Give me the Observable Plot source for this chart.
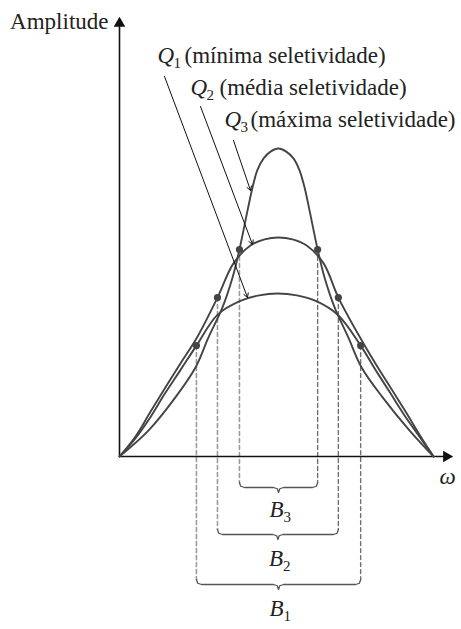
<!DOCTYPE html>
<html><head><meta charset="utf-8">
<script src="https://cdn.jsdelivr.net/npm/d3@7"></script>
<script src="https://cdn.jsdelivr.net/npm/@observablehq/plot@0.6"></script>
<style>body{margin:0;background:#fff} svg{display:block}</style>
</head><body><div id="chart"></div>
<script>
// ω spans 0–10 between the two zeros; amplitude normalised so the Q3 peak = 1
const q1Omega = [0, 0.5, 1.0, 1.45, 1.95, 2.45, 3.12, 3.85, 4.45, 5.03, 5.65, 6.25, 6.95, 7.68, 8.15, 8.63, 9.1, 9.6, 10];
const q1Amp   = [0, 0.058, 0.13, 0.205, 0.282, 0.36, 0.46, 0.505, 0.523, 0.529, 0.523, 0.505, 0.46, 0.36, 0.282, 0.205, 0.13, 0.058, 0];
const q2Omega = [0, 0.51, 0.99, 1.46, 1.94, 2.45, 3.12, 3.63, 4.17, 4.62, 5.06, 5.51, 5.96, 6.5, 6.97, 7.68, 8.15, 8.63, 9.11, 9.59, 10];
const q2Amp   = [0, 0.065, 0.146, 0.224, 0.302, 0.383, 0.516, 0.627, 0.685, 0.705, 0.711, 0.705, 0.685, 0.627, 0.516, 0.383, 0.302, 0.224, 0.146, 0.065, 0];
const q3Omega = [0, 0.92, 1.78, 2.42, 2.83, 3.28, 3.60, 3.82, 4.08, 4.24, 4.39, 4.59, 4.81, 5.06, 5.31, 5.54, 5.73, 5.89, 6.05, 6.31, 6.53, 6.85, 7.29, 7.71, 8.38, 9.24, 10];
const q3Amp   = [0, 0.084, 0.192, 0.289, 0.386, 0.484, 0.581, 0.672, 0.80, 0.875, 0.93, 0.968, 0.99, 1.0, 0.99, 0.968, 0.93, 0.875, 0.80, 0.672, 0.581, 0.484, 0.386, 0.289, 0.192, 0.084, 0];

// half-power points of each curve
const seriesNames  = ["Q1", "Q2", "Q3"];
const seriesDesc   = ["(mínima seletividade)", "(média seletividade)", "(máxima seletividade)"];
const bandNames    = ["B1", "B2", "B3"];
const cutoffLow    = [2.45, 3.12, 3.82];
const cutoffHigh   = [7.68, 6.97, 6.31];
const cutoffAmp    = [0.36, 0.516, 0.672];

// ---------- layout (pixels → scale units) ----------
const X0 = 119, XPX = 31.4, Y0 = 456, YPX = 308;
const X = px => (px - X0) / XPX;
const Y = py => (Y0 - py) / YPX;
const braceLevelPx = [584, 534, 487];      // B1, B2, B3
const braceLabelPx = [615, 565, 516];
const labelPx = [ {q: 157, s: 173, d: 184, y: 62}, {q: 190, s: 206, d: 219, y: 94}, {q: 224, s: 240, d: 250, y: 126} ];
const arrowPx = [ {x1: 164, y1: 76, x2: 247, y2: 297}, {x1: 200, y1: 106, x2: 252, y2: 244}, {x1: 233, y1: 140, x2: 250, y2: 190} ];

const curveColor = "#444";
const serif = "Liberation Serif";
const FS = 23, SUB = 15;

const curves = [
  ...q1Omega.map((w, i) => ({s: "Q1", w, a: q1Amp[i]})),
  ...q2Omega.map((w, i) => ({s: "Q2", w, a: q2Amp[i]})),
  ...q3Omega.map((w, i) => ({s: "Q3", w, a: q3Amp[i]}))
];
const dots = seriesNames.flatMap((s, i) => [{s, w: cutoffLow[i], a: cutoffAmp[i]}, {s, w: cutoffHigh[i], a: cutoffAmp[i]}]);

// dashed drops and braces
const drops = [];
const braces = [];
seriesNames.forEach((s, i) => {
  const lvl = Y(braceLevelPx[i]);
  const d = 5 / YPX, c = 5 / XPX;
  const x0 = cutoffLow[i], x1 = cutoffHigh[i], m = (x0 + x1) / 2;
  drops.push({id: s + "L", w: x0, a: cutoffAmp[i], side: "L"}, {id: s + "L", w: x0, a: lvl + d, side: "L"});
  drops.push({id: s + "R", w: x1, a: cutoffAmp[i], side: "R"}, {id: s + "R", w: x1, a: lvl + d, side: "R"});
  const pts = [[x0, lvl + d], [x0 + 0.25 * c, lvl + 0.25 * d], [x0 + c, lvl], [m - c, lvl], [m - 0.25 * c, lvl - 0.25 * d], [m, lvl - d],
               [m + 0.25 * c, lvl - 0.25 * d], [m + c, lvl], [x1 - c, lvl], [x1 - 0.25 * c, lvl + 0.25 * d], [x1, lvl + d]];
  pts.forEach(([w, a]) => braces.push({id: s, w, a}));
});

const texts = [];
const subs = [];
const descs = [];
seriesNames.forEach((s, i) => {
  const L = labelPx[i];
  texts.push({t: "Q", w: X(L.q), a: Y(L.y)});
  subs.push({t: s.slice(1), w: X(L.s), a: Y(L.y + 5)});
  descs.push({t: seriesDesc[i], w: X(L.d), a: Y(L.y)});
  const cx = (cutoffLow[i] + cutoffHigh[i]) / 2;
  texts.push({t: "B", w: cx - 9 / XPX, a: Y(braceLabelPx[i])});
  subs.push({t: bandNames[i].slice(1), w: cx + 5 / XPX, a: Y(braceLabelPx[i] + 5)});
});
const arrows = arrowPx.map(p => ({x1: X(p.x1), y1: Y(p.y1), x2: X(p.x2), y2: Y(p.y2)}));

const chart = Plot.plot({
  width: 461, height: 629, margin: 0,
  x: {domain: [0, 10], range: [X0, X0 + 10 * XPX], axis: null},
  y: {domain: [0, 1], range: [Y0, Y0 - YPX], axis: null},
  style: {background: "#fff"},
  marks: [
    // dashed drops
    Plot.line(drops.filter(d => d.side === "L"), {x: "w", y: "a", z: "id", stroke: "#9a9a9a", strokeWidth: 1.6, strokeDasharray: "4,3"}),
    Plot.line(drops.filter(d => d.side === "R"), {x: "w", y: "a", z: "id", stroke: "#707070", strokeWidth: 1.4, strokeDasharray: "4,3"}),
    // braces
    Plot.line(braces, {x: "w", y: "a", z: "id", stroke: "#555", strokeWidth: 1.3}),
    // axes
    Plot.ruleY([0], {x1: 0, x2: X(447), stroke: "#111", strokeWidth: 1.6}),
    Plot.ruleX([0], {y1: 0, y2: Y(24), stroke: "#111", strokeWidth: 1.6}),
    Plot.dot([{w: X(446), a: 0}], {x: "w", y: "a", symbol: "triangle", r: 4.3, rotate: 90, fill: "#111", stroke: "none"}),
    Plot.dot([{w: 0, a: Y(23)}], {x: "w", y: "a", symbol: "triangle", r: 4.3, fill: "#111", stroke: "none"}),
    // response curves
    Plot.line(curves, {x: "w", y: "a", z: "s", curve: "catmull-rom", stroke: curveColor, strokeWidth: 1.9}),
    Plot.dot(dots, {x: "w", y: "a", r: 3.6, fill: curveColor, stroke: "none"}),
    // pointer arrows
    Plot.arrow(arrows, {x1: "x1", y1: "y1", x2: "x2", y2: "y2", stroke: "#111", strokeWidth: 1, headLength: 7}),
    // texts
    Plot.text([{w: X(108), a: Y(28)}], {x: "w", y: "a", text: () => "Amplitude", textAnchor: "end", lineAnchor: "bottom", fontFamily: serif, fontSize: FS, fill: "#222"}),
    Plot.text([{w: X(447), a: Y(483)}], {x: "w", y: "a", text: () => "ω", textAnchor: "middle", lineAnchor: "bottom", fontFamily: serif, fontStyle: "italic", fontSize: FS, fill: "#222"}),
    Plot.text(texts, {x: "w", y: "a", text: "t", textAnchor: "start", lineAnchor: "bottom", fontFamily: serif, fontStyle: "italic", fontSize: FS, fill: "#222"}),
    Plot.text(subs, {x: "w", y: "a", text: "t", textAnchor: "start", lineAnchor: "bottom", fontFamily: serif, fontSize: SUB, fill: "#222"}),
    Plot.text(descs, {x: "w", y: "a", text: "t", textAnchor: "start", lineAnchor: "bottom", fontFamily: serif, fontSize: FS, fill: "#222"})
  ]
});
document.getElementById("chart").append(chart);
</script>
</body></html>
